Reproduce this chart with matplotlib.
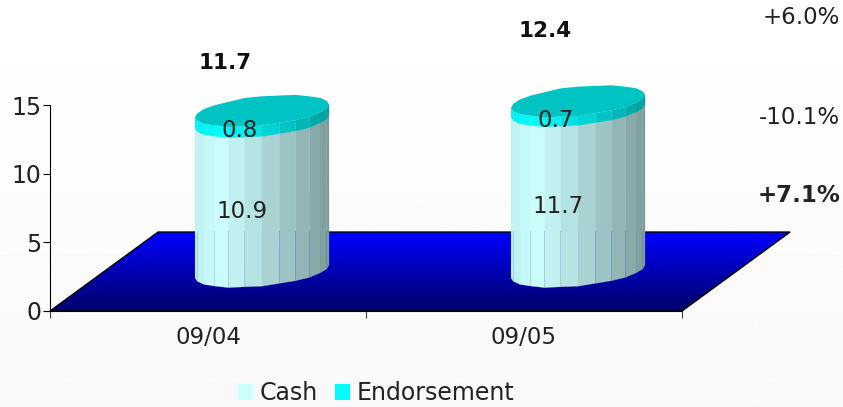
import numpy as np
import matplotlib
matplotlib.use("Agg")
import matplotlib.pyplot as plt
from matplotlib.patches import Patch, Polygon
from matplotlib.colors import LinearSegmentedColormap, to_rgb

categories = ["09/04", "09/05"]
cash = [10.9, 11.7]
endorsement = [0.8, 0.7]
totals = ["11.7", "12.4"]
changes = ["+6.0%", "-10.1%", "+7.1%"]
wobble = [1.0, 0.97, 1.02, 0.98, 1.03, 0.98, 1.02, 0.97, 1.0, 1.03, 0.97, 1.02,
          1.0, 0.98, 1.03, 0.97, 1.02, 0.98, 1.01, 1.04, 0.98, 1.0, 1.03, 0.98]

W, H = 843, 407
DEPTH_X, DEPTH_Y = 0.342, 5.75
RX, RY, SHEAR = 0.212, 1.05, 0.47
FS = 16.5


def fig_xy(x, y):
    return x / W, 1 - y / H


def ring(cx, cy):
    t = np.linspace(np.pi, 3 * np.pi, len(wobble), endpoint=False)
    w = np.array(wobble)
    xs = cx + RX * np.cos(t)
    ys = cy + RY * w * np.sin(t) + SHEAR * np.cos(t)
    return t, xs, ys


def side_colour(base, f):
    # light comes from the left, so the facets get darker to the right
    k = np.interp(f, [0, 0.12, 1], [0.94, 1.0, 0.6])
    return tuple(c * k for c in to_rgb(base))


def cylinder_part(ax, cx, y0, y1, base, z):
    t, xs, ys = ring(cx, y0)
    front = np.where(np.sin(t) <= 0.01)[0]
    front = front[np.argsort(xs[front])]
    for i, j in zip(front[:-1], front[1:]):
        f = (xs[i] - cx + RX) / (2 * RX)
        c = side_colour(base, f)
        pts = [(xs[i], ys[i]), (xs[j], ys[j]),
               (xs[j], ys[j] + y1 - y0), (xs[i], ys[i] + y1 - y0)]
        ax.add_patch(Polygon(pts, fc=c, ec=c, lw=0.15, zorder=z, clip_on=False))


plt.rcParams["font.family"] = "DejaVu Sans"
fig = plt.figure(figsize=(W / 100, H / 100), dpi=100)

bg = fig.add_axes([0, 0, 1, 1], zorder=-1)
bg.imshow(np.linspace(1, 0.975, 256).reshape(-1, 1), cmap="gray", vmin=0, vmax=1,
          aspect="auto")
bg.set_axis_off()

ax = fig.add_axes([50 / W, 1 - 311 / H, 632 / W, 206 / H])
ax.patch.set_alpha(0)

# floor of the 3D chart
floor = Polygon([(0, 0), (2, 0), (2 + DEPTH_X, DEPTH_Y), (DEPTH_X, DEPTH_Y)],
                fc="none", ec="black", lw=1, zorder=2, clip_on=False,
                transform=ax.transData)
ax.add_patch(floor)
blues = LinearSegmentedColormap.from_list("floor", ["#000068", "#0000ff"])
im = ax.imshow(np.linspace(1, 0, 256).reshape(-1, 1), cmap=blues, aspect="auto",
               extent=(0, 2 + DEPTH_X, 0, DEPTH_Y), zorder=1)
im.set_clip_path(floor)
im.set_clip_box(fig.bbox)
ax.set_xlim(0, 2)
ax.set_ylim(0, 15)

for i, cat in enumerate(categories):
    cx = i + 0.5 + DEPTH_X / 2
    y0 = DEPTH_Y / 2
    y1 = y0 + cash[i]
    y2 = y1 + endorsement[i]
    cylinder_part(ax, cx, y0, y1, "#ccffff", 3)
    cylinder_part(ax, cx, y1, y2, "#00ffff", 4)
    t, xs, ys = ring(cx, y2)
    ax.add_patch(Polygon(np.column_stack([xs, ys]), fc="#00c4c4", ec="none",
                         zorder=5, clip_on=False))
    ax.text(cx - 0.064, (y0 + y1) / 2 - 1.1, f"{cash[i]}", fontsize=FS, color="#222222",
            ha="center", va="center", zorder=6, clip_on=False)
    ax.text(cx - 0.07, (y1 + y2) / 2 - 1.05, f"{endorsement[i]}", fontsize=FS, color="#222222",
            ha="center", va="center", zorder=6, clip_on=False)

ax.spines["top"].set_visible(False)
ax.spines["right"].set_visible(False)
ax.set_yticks([0, 5, 10, 15])
ax.set_xticks([0, 1, 2])
ax.set_xticklabels([])
ax.set_xticks([0.5, 1.5], minor=True)
ax.set_xticklabels(categories, minor=True)
ax.tick_params(axis="x", which="minor", length=0, pad=11, labelsize=FS, labelcolor="#222222")
ax.tick_params(axis="x", which="major", length=5, color="#444444")
ax.tick_params(axis="y", length=5, pad=1, labelsize=FS + 0.5, labelcolor="#222222")

total_pos = [(225, 63), (545, 31)]
for label, pos in zip(totals, total_pos):
    fig.text(*fig_xy(*pos), label, fontsize=FS - 1, fontweight="bold", color="#111111",
             ha="center", va="center")
change_y = [17, 118, 195]
change_weight = ["normal", "normal", "bold"]
for label, y, weight in zip(changes, change_y, change_weight):
    fig.text(*fig_xy(840, y), label, fontsize=FS, fontweight=weight, color="#222222",
             ha="right", va="center")

handles = [Patch(fc="#ccffff", ec="none"), Patch(fc="#00ffff", ec="none")]
fig.legend(handles, ["Cash", "Endorsement"], loc="center", bbox_to_anchor=fig_xy(376, 393),
           ncol=2, frameon=False, fontsize=FS + 0.5, handlelength=0.65, handleheight=0.65,
           handletextpad=0.25, columnspacing=0.75, borderpad=0, labelcolor="#222222")

fig.savefig("out.png", dpi=100)
